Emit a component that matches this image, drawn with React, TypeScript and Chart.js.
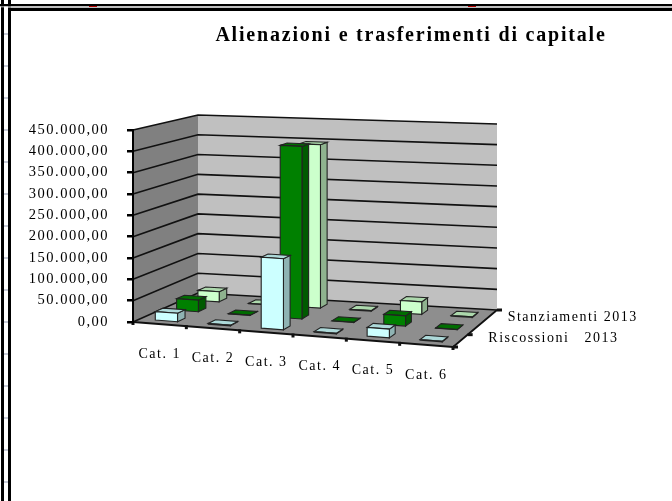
import React, { useEffect, useRef } from "react";
import { Chart, registerables } from "chart.js";

Chart.register(...registerables);

const categories = ["Cat. 1", "Cat. 2", "Cat. 3", "Cat. 4", "Cat. 5", "Cat. 6"];
const riscossioni = [20000, 1500, 165000, 1500, 20000, 1500];
const intermedia = [28000, 500, 410000, 500, 24000, 500];
const stanziamenti = [25000, 500, 398000, 1500, 30000, 1500];
const depthLabels = ["Riscossioni   2013", "", "Stanziamenti 2013"];
const chartTitle = "Alienazioni e trasferimenti di capitale";
const SERIF = '"Liberation Serif", serif';

function shade(hex: string, f: number) {
  const n = parseInt(hex.slice(1), 16);
  const c = [(n >> 16) & 255, (n >> 8) & 255, n & 255].map((v) => Math.round(v * f));
  return `rgb(${c[0]},${c[1]},${c[2]})`;
}

function makeProjector(chart: any) {
  const { x, y } = chart.scales;
  const fl = { x: x.left, y: y.bottom, k: 1 };
  const fr = { x: x.right, y: y.bottom + 25, k: 1.04 };
  const bl = { x: x.left + 65, y: y.bottom - 29, k: 0.927 };
  const br = { x: x.left + 364, y: y.bottom - 12, k: 0.969 };
  const mix = (u: number, w: number, key: "x" | "y" | "k") =>
    (1 - w) * ((1 - u) * fl[key] + u * fr[key]) + w * ((1 - u) * bl[key] + u * br[key]);
  // u: 0..1 along the categories, w: 0..1 into the depth, v: data value
  return (u: number, w: number, v: number) => {
    const h = y.bottom - y.getPixelForValue(v);
    return { x: mix(u, w, "x"), y: mix(u, w, "y") - h * mix(u, w, "k") };
  };
}

function poly(ctx: CanvasRenderingContext2D, pts: { x: number; y: number }[], fill?: string, stroke?: string, lw = 1) {
  ctx.beginPath();
  pts.forEach((p, i) => (i ? ctx.lineTo(p.x, p.y) : ctx.moveTo(p.x, p.y)));
  ctx.closePath();
  if (fill) {
    ctx.fillStyle = fill;
    ctx.fill();
  }
  if (stroke) {
    ctx.strokeStyle = stroke;
    ctx.lineWidth = lw;
    ctx.stroke();
  }
}

const frame3d = {
  id: "frame3d",
  beforeDraw(chart: any) {
    const ctx: CanvasRenderingContext2D = chart.ctx;
    (ctx as any).letterSpacing = "1.5px";
    ctx.save();
    // page frame around the pasted picture
    ctx.fillStyle = "#fff";
    ctx.fillRect(0, 0, chart.width, chart.height);
    ctx.fillStyle = "#c8ccd8";
    for (let yy = 33; yy < 501; yy += 32) ctx.fillRect(4, yy, 4, 2);
    ctx.fillStyle = "#000";
    ctx.fillRect(1, 0, 3, 501);
    ctx.fillRect(8, 0, 3, 501);
    ctx.fillRect(0, 4, 672, 2.5);
    ctx.fillRect(8, 7.5, 664, 3.5);
    ctx.fillStyle = "#fff";
    ctx.fillRect(0, 6.5, 672, 1);
    ctx.fillStyle = "#000";
    ctx.fillRect(1, 7.5, 3, 4);
    ctx.fillStyle = "#b00000";
    ctx.fillRect(89, 6, 8, 1);
    ctx.fillRect(468, 6, 8, 1);

    const P = makeProjector(chart);
    const { y } = chart.scales;
    const top = y.max;
    poly(ctx, [P(0, 0, 0), P(0, 1, 0), P(0, 1, top), P(0, 0, top)], "#808080");
    poly(ctx, [P(0, 1, 0), P(1, 1, 0), P(1, 1, top), P(0, 1, top)], "#c0c0c0");
    poly(ctx, [P(0, 0, 0), P(1, 0, 0), P(1, 1, 0), P(0, 1, 0)], "#8e8e8e");
    // gridlines on both walls, from the value axis ticks
    ctx.strokeStyle = "#111";
    ctx.lineWidth = 1.6;
    y.ticks.forEach((t: any) => {
      const a = P(0, 0, t.value), b = P(0, 1, t.value), c = P(1, 1, t.value);
      ctx.beginPath();
      ctx.moveTo(a.x, a.y);
      ctx.lineTo(b.x, b.y);
      ctx.lineTo(c.x, c.y);
      ctx.stroke();
    });
    // outline of floor's front edge and its ticks
    const fl = P(0, 0, 0), fr = P(1, 0, 0), br = P(1, 1, 0);
    ctx.lineWidth = 1.8;
    ctx.beginPath();
    ctx.moveTo(fl.x, fl.y);
    ctx.lineTo(fr.x, fr.y);
    ctx.lineTo(br.x, br.y);
    ctx.stroke();
    ctx.lineWidth = 3;
    categories.concat("").forEach((_, i) => {
      const p = P(i / categories.length, 0, 0);
      ctx.beginPath();
      ctx.moveTo(p.x, p.y - 1);
      ctx.lineTo(p.x, p.y + 3);
      ctx.stroke();
    });
    [0, 1 / 3, 1].forEach((w) => {
      const p = P(1, w, 0);
      ctx.beginPath();
      ctx.moveTo(p.x, p.y);
      ctx.lineTo(p.x + 5, p.y);
      ctx.stroke();
    });
    ctx.restore();
  },
  afterLayout(chart: any) {
    const tb = chart.titleBlock;
    if (tb && !tb.__moved) {
      tb.__moved = true;
      tb.left = 150;
      tb.right = 672;
      const d = tb.draw;
      tb.draw = function () {
        (chart.ctx as any).letterSpacing = "1.8px";
        d.call(tb);
        (chart.ctx as any).letterSpacing = "1.5px";
      };
    }
  },
  beforeDatasetDraw(chart: any, args: any) {
    const ctx: CanvasRenderingContext2D = chart.ctx;
    const P = makeProjector(chart);
    const ds = chart.data.datasets[args.index];
    const n = categories.length;
    const wc = (args.index + 0.5) / chart.data.datasets.length;
    const du = 0.035, dw = 0.06;
    const base: string = ds.backgroundColor;
    ds.data.forEach((v: number, i: number) => {
      const uc = (i + 0.5) / n;
      const u0 = uc - du, u1 = uc + du, w0 = wc - dw, w1 = wc + dw;
      poly(ctx, [P(u1, w0, 0), P(u1, w1, 0), P(u1, w1, v), P(u1, w0, v)], shade(base, 0.7), "#222", 1.1);
      poly(ctx, [P(u0, w0, v), P(u1, w0, v), P(u1, w1, v), P(u0, w1, v)], shade(base, 0.85), "#222", 1.1);
      poly(ctx, [P(u0, w0, 0), P(u1, w0, 0), P(u1, w0, v), P(u0, w0, v)], base, "#222", 1.1);
    });
    return false;
  },
  afterDraw(chart: any) {
    const ctx: CanvasRenderingContext2D = chart.ctx;
    const P = makeProjector(chart);
    ctx.save();
    ctx.fillStyle = "#000";
    ctx.font = `14px ${SERIF}`;
    ctx.textAlign = "center";
    ctx.textBaseline = "middle";
    categories.forEach((c, i) => {
      const p = P((i + 0.5) / categories.length, 0, 0);
      ctx.fillText(c, p.x, p.y + 30);
    });
    ctx.textAlign = "left";
    depthLabels.forEach((t, i) => {
      if (!t) return;
      const p = P(1, (i + 0.5) / depthLabels.length, 0);
      ctx.fillText(t, p.x + (i ? 18 : 28), p.y + (i ? 1 : -3));
    });
    ctx.restore();
  },
};

export default function App() {
  const ref = useRef<HTMLCanvasElement>(null);
  useEffect(() => {
    const chart = new Chart(ref.current!, {
      type: "bar",
      data: {
        labels: categories,
        datasets: [
          { label: depthLabels[0], data: riscossioni, backgroundColor: "#CCFFFF" },
          { label: depthLabels[1], data: intermedia, backgroundColor: "#008000" },
          { label: depthLabels[2], data: stanziamenti, backgroundColor: "#CCFFCC" },
        ],
      },
      options: {
        responsive: false,
        animation: false,
        layout: { padding: { left: 0, top: 0, right: 219, bottom: 179 } },
        plugins: {
          legend: { display: false },
          tooltip: { enabled: false },
          title: {
            display: true,
            text: chartTitle,
            color: "#000",
            font: { family: SERIF, size: 20, weight: "bold", lineHeight: 1.2 },
            padding: { top: 24, bottom: 82 },
          },
        },
        scales: {
          x: { display: false },
          y: {
            min: 0,
            max: 450000,
            afterFit(s: any) {
              s.width = 133;
            },
            border: { display: true, color: "#000", width: 2 },
            grid: { drawOnChartArea: false, color: "#000", lineWidth: 2.5, tickLength: 6, drawTicks: true },
            ticks: {
              stepSize: 50000,
              color: "#000",
              padding: 18,
              font: { family: SERIF, size: 14.5 },
              callback: (v: any) => Number(v).toLocaleString("it-IT", { minimumFractionDigits: 2, useGrouping: "always" } as any),
            },
          },
        },
      } as any,
      plugins: [frame3d],
    });
    return () => chart.destroy();
  }, []);
  return (
    <canvas
      ref={ref}
      width={672}
      height={501}
      style={{ position: "absolute", left: 0, top: 0, width: 672, height: 501, filter: "blur(0.6px)" }}
    />
  );
}
